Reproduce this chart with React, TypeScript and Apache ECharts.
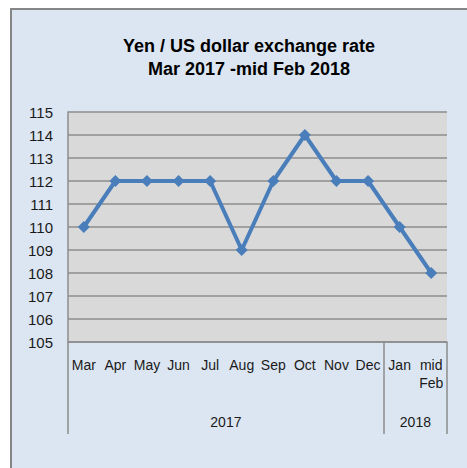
import React, { useEffect, useRef } from "react";
import * as echarts from "echarts";

const months = ["Mar", "Apr", "May", "Jun", "Jul", "Aug", "Sep", "Oct", "Nov", "Dec", "Jan", "mid\nFeb"];
const rates = [110, 112, 112, 112, 112, 109, 112, 114, 112, 112, 110, 108];
const yearLabels = ["2017", "2018"];
const yearCenters = [5, 11];
const yearBoundaries = [0, 10, 12];
const titleLines = ["Yen / US dollar exchange rate", "Mar 2017 -mid Feb 2018"];

export default function App() {
  const ref = useRef<HTMLDivElement>(null);
  useEffect(() => {
    if (!ref.current) return;
    const chart = echarts.init(ref.current, null, { renderer: "svg" });
    const font = "Liberation Sans";
    chart.setOption({
      animation: false,
      backgroundColor: "#ffffff",
      graphic: [
        {
          type: "rect",
          shape: { x: 11, y: 9, width: 470, height: 470 },
          style: { fill: "#dce6f2", stroke: "#868686", lineWidth: 2 },
          z: -10,
          silent: true,
        },
      ],
      title: {
        text: titleLines.join("\n"),
        left: 244,
        top: 29,
        textAlign: "center",
        textStyle: { fontFamily: font, fontSize: 18, fontWeight: "bold", color: "#000", lineHeight: 23 },
      },
      grid: {
        left: 68,
        top: 112,
        right: 20,
        bottom: 126,
        show: true,
        backgroundColor: "#d9d9d9",
        borderWidth: 0,
        containLabel: false,
      },
      xAxis: [
        {
          type: "category",
          data: months,
          boundaryGap: true,
          axisLine: { show: true, lineStyle: { color: "#8c8c8c", width: 1.5 } },
          axisTick: { show: false },
          axisLabel: {
            interval: 0,
            margin: 14,
            fontFamily: font,
            fontSize: 14,
            color: "#1a1a1a",
            lineHeight: 18,
          },
          splitLine: { show: false },
        },
        {
          type: "value",
          min: 0,
          max: 12,
          position: "bottom",
          axisLine: { show: false },
          splitLine: { show: false },
          axisTick: {
            show: true,
            customValues: yearBoundaries,
            length: 92,
            lineStyle: { color: "#8c8c8c", width: 1.5 },
          },
          axisLabel: {
            show: true,
            customValues: yearCenters,
            margin: 73,
            fontFamily: font,
            fontSize: 14,
            color: "#1a1a1a",
            formatter: (v: number) => yearLabels[yearCenters.indexOf(v)] ?? "",
          },
        },
      ],
      yAxis: {
        type: "value",
        min: 105,
        max: 115,
        interval: 1,
        axisLine: { show: true, lineStyle: { color: "#8c8c8c", width: 1.5 } },
        axisTick: { show: false },
        axisLabel: { margin: 15, fontFamily: font, fontSize: 15, color: "#1a1a1a" },
        splitLine: { show: true, lineStyle: { color: "#8c8c8c", width: 1.5 } },
      },
      series: [
        {
          type: "line",
          xAxisIndex: 0,
          data: rates,
          symbol: "diamond",
          symbolSize: 12,
          lineStyle: { color: "#4a7ebb", width: 4 },
          itemStyle: { color: "#4a7ebb" },
        },
      ],
    });
    return () => chart.dispose();
  }, []);
  return (
    <div
      ref={ref}
      style={{ position: "fixed", left: 0, top: 0, width: 467, height: 468 }}
    />
  );
}
